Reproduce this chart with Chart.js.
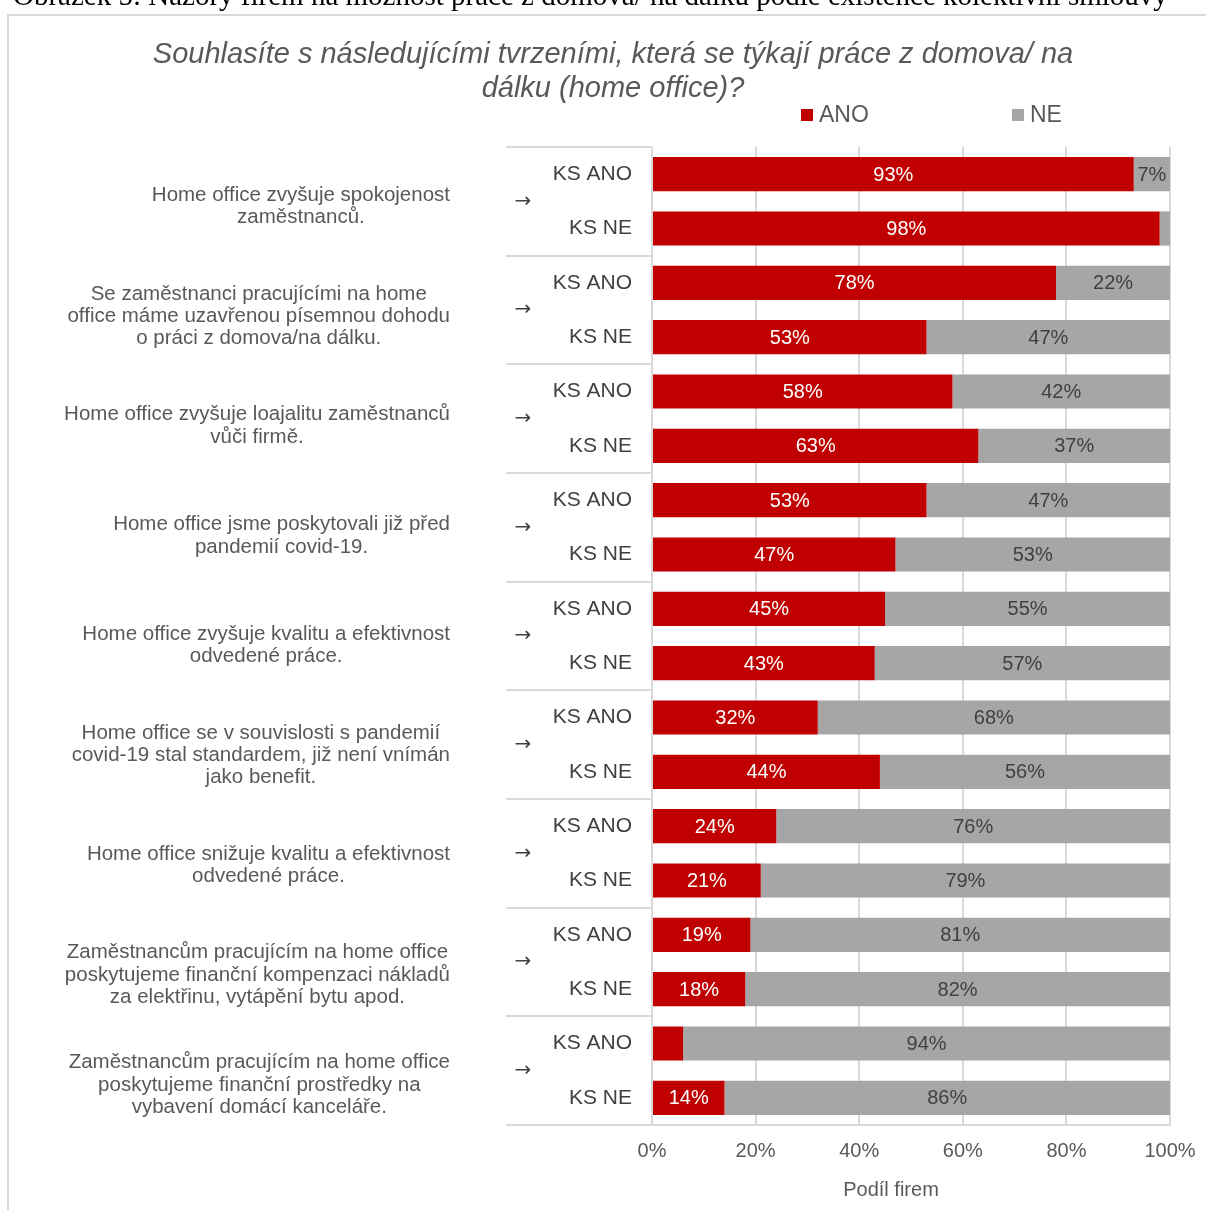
<!DOCTYPE html>
<html lang="cs">
<head>
<meta charset="utf-8">
<script src="https://cdn.jsdelivr.net/npm/chart.js@4"></script>
<style>
  html, body { margin: 0; padding: 0; background: #ffffff; }
  #wrap { position: absolute; left: 0; top: 0; width: 1206px; height: 1210px; }
</style>
</head>
<body>
<div id="wrap"><canvas id="c" width="1206" height="1210"></canvas></div>
<script>
// Statements (each split into its printed lines)
const statements = [
  ['Home office zvyšuje spokojenost', 'zaměstnanců.'],
  ['Se zaměstnanci pracujícími na home', 'office máme uzavřenou písemnou dohodu', 'o práci z domova/na dálku.'],
  ['Home office zvyšuje loajalitu zaměstnanců', 'vůči firmě.'],
  ['Home office jsme poskytovali již před', 'pandemií covid-19.'],
  ['Home office zvyšuje kvalitu a efektivnost', 'odvedené práce.'],
  ['Home office se v souvislosti s pandemií', 'covid-19 stal standardem, již není vnímán', 'jako benefit.'],
  ['Home office snižuje kvalitu a efektivnost', 'odvedené práce.'],
  ['Zaměstnancům pracujícím na home office', 'poskytujeme finanční kompenzaci nákladů', 'za elektřinu, vytápění bytu apod.'],
  ['Zaměstnancům pracujícím na home office', 'poskytujeme finanční prostředky na', 'vybavení domácí kanceláře.']
];

// Sub-groups: firms with / without a collective agreement
const subGroups = ['KS ANO', 'KS NE'];

// Share of firms answering ANO / NE (%), two rows per statement
const anoValues = [93, 98, 78, 53, 58, 63, 53, 47, 45, 43, 32, 44, 24, 21, 19, 18, 6, 14];
const neValues  = [7, 2, 22, 47, 42, 37, 47, 53, 55, 57, 68, 56, 76, 79, 81, 82, 94, 86];

const seriesNames = ['ANO', 'NE'];
const xTicks = [0, 20, 40, 60, 80, 100];

const titleLines = [
  'Souhlasíte s následujícími tvrzeními, která se týkají práce z domova/ na',
  'dálku (home office)?'
];
const captionText = 'Obrázek 5: Názory firem na možnost práce z domova/ na dálku podle existence kolektivní smlouvy';
const axisTitle = 'Podíl firem';

const rowLabels = statements.flatMap(() => subGroups);

const RED = '#C00000';
const GREY = '#A6A6A6';
const LINE = '#D9D9D9';
const TEXT = '#595959';
const DARK = '#404040';
const SANS = '"Liberation Sans", Arial, sans-serif';

const decorations = {
  id: 'decorations',
  beforeDraw(chart) {
    const ctx = chart.ctx;
    ctx.save();
    // outer frame
    ctx.strokeStyle = LINE;
    ctx.lineWidth = 2;
    ctx.strokeRect(8, 15, 1400, 1400);
    // caption line above the frame
    ctx.fillStyle = '#000000';
    ctx.font = '29px "Liberation Serif", "Times New Roman", serif';
    ctx.textAlign = 'left';
    ctx.textBaseline = 'alphabetic';
    ctx.fillText(captionText, 13, 5);
    // title
    ctx.fillStyle = TEXT;
    ctx.font = 'italic 29px ' + SANS;
    ctx.textAlign = 'center';
    ctx.textBaseline = 'middle';
    ctx.fillText(titleLines[0], 613, 55);
    ctx.fillText(titleLines[1], 613, 89);
    // legend
    const legendItems = [
      { name: seriesNames[0], color: RED, x: 801 },
      { name: seriesNames[1], color: GREY, x: 1012 }
    ];
    ctx.font = '23px ' + SANS;
    ctx.textAlign = 'left';
    legendItems.forEach(it => {
      ctx.fillStyle = it.color;
      ctx.fillRect(it.x, 109, 12, 12);
      ctx.fillStyle = TEXT;
      ctx.fillText(it.name, it.x + 18, 116);
    });
    ctx.restore();
  },
  afterDraw(chart) {
    const ctx = chart.ctx;
    const y = chart.scales.y;
    const area = chart.chartArea;
    ctx.save();
    // group separators and statement texts
    const step = y.getPixelForValue(1) - y.getPixelForValue(0);
    ctx.strokeStyle = LINE;
    ctx.lineWidth = 2;
    for (let g = 0; g <= statements.length; g++) {
      const yy = Math.round(y.getPixelForValue(g * 2) - step / 2);
      ctx.beginPath();
      ctx.moveTo(506, yy);
      ctx.lineTo(area.left, yy);
      ctx.stroke();
    }
    statements.forEach((lines, g) => {
      const mid = (y.getPixelForValue(g * 2) + y.getPixelForValue(g * 2 + 1)) / 2;
      ctx.font = '20.5px ' + SANS;
      ctx.fillStyle = TEXT;
      ctx.textAlign = 'center';
      ctx.textBaseline = 'middle';
      const widths = lines.map(l => ctx.measureText(l).width);
      const maxW = Math.max(...widths);
      const cx = 450 - maxW / 2;
      const lh = 22.3;
      const textMid = mid + 5 + g * 1.15;
      const top = textMid - (lines.length - 1) * lh / 2;
      lines.forEach((l, i) => ctx.fillText(l, cx, top + i * lh));
      // arrow
      ctx.fillStyle = DARK;
      ctx.font = '20px "DejaVu Sans", sans-serif';
      ctx.fillText('→', 523, mid);
    });
    // value labels inside bars
    ctx.font = '20px ' + SANS;
    ctx.textAlign = 'center';
    ctx.textBaseline = 'middle';
    chart.data.datasets.forEach((ds, di) => {
      const meta = chart.getDatasetMeta(di);
      meta.data.forEach((bar, i) => {
        const v = ds.data[i];
        if (v < 7) return;
        const left = Math.min(bar.x, bar.base);
        const right = Math.max(bar.x, bar.base);
        ctx.fillStyle = di === 0 ? '#FFFFFF' : DARK;
        ctx.fillText(v + '%', (left + right) / 2, bar.y + 1);
      });
    });
    // axis title
    ctx.fillStyle = TEXT;
    ctx.font = '20px ' + SANS;
    ctx.fillText(axisTitle, 891, 1190);
    ctx.restore();
  }
};

new Chart(document.getElementById('c'), {
  type: 'bar',
  data: {
    labels: rowLabels,
    datasets: [
      { label: seriesNames[0], data: anoValues, backgroundColor: RED, borderWidth: 0 },
      { label: seriesNames[1], data: neValues, backgroundColor: GREY, borderWidth: 0 }
    ]
  },
  options: {
    indexAxis: 'y',
    responsive: false,
    animation: false,
    devicePixelRatio: 1,
    datasets: { bar: { categoryPercentage: 1, barPercentage: 0.63 } },
    layout: { padding: { left: 0, right: 36, top: 147, bottom: 0 } },
    plugins: { legend: { display: false }, title: { display: false }, tooltip: { enabled: false } },
    scales: {
      x: {
        stacked: true,
        min: 0,
        max: 100,
        afterBuildTicks(scale) { scale.ticks = xTicks.map(v => ({ value: v })); },
        afterFit(scale) {
          scale.height = 85;
          scale.paddingLeft = 0;
          scale.paddingRight = 0;
        },
        ticks: {
          callback: v => v + '%',
          font: { family: SANS, size: 20 },
          color: TEXT,
          padding: 14,
          maxRotation: 0
        },
        grid: { color: LINE, lineWidth: 2, drawTicks: false },
        border: { display: true, color: LINE, width: 2 }
      },
      y: {
        stacked: true,
        afterFit(scale) { scale.width = 652; },
        ticks: {
          font: { family: SANS, size: 21 },
          color: DARK,
          padding: 20
        },
        grid: { display: false, drawTicks: false },
        border: { display: false }
      }
    }
  },
  plugins: [decorations]
});
</script>
</body>
</html>
